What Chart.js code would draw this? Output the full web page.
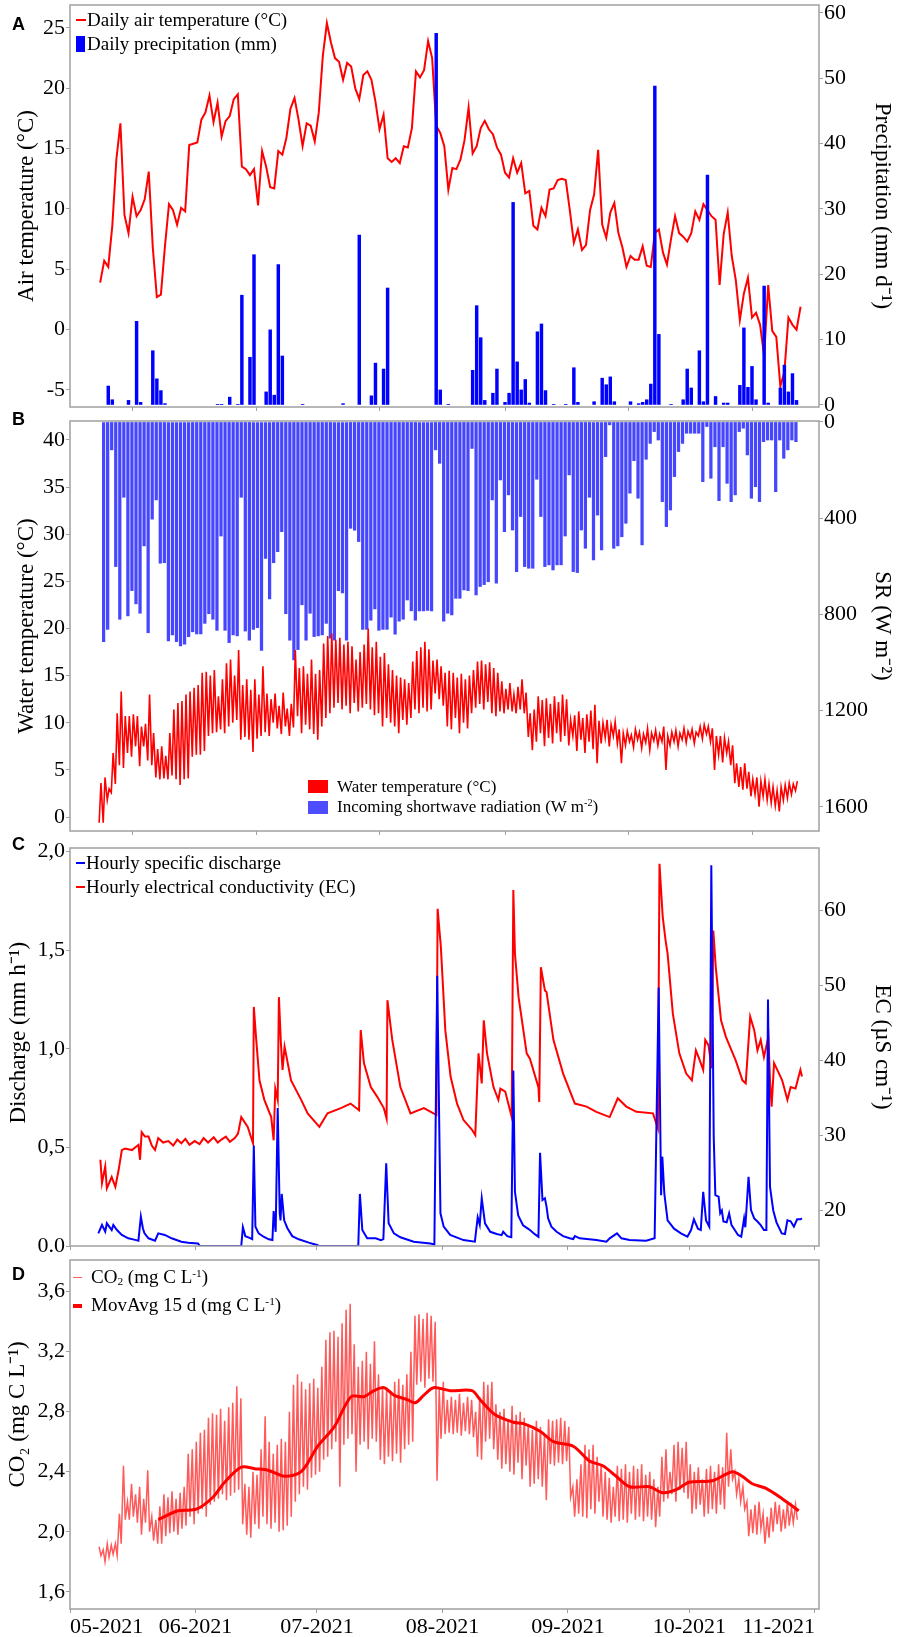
<!DOCTYPE html>
<html lang="en">
<head>
<meta charset="utf-8">
<title>Hydro-meteorological time series 2021</title>
<script src="https://cdn.jsdelivr.net/npm/chart.js@4.4.1/dist/chart.umd.min.js"></script>
<style>
  html, body { margin:0; padding:0; background:#fff; }
  #wrap { position:relative; width:900px; height:1637px; overflow:hidden; background:#fff; font-family:"Liberation Serif", serif; }
  #wrap canvas { position:absolute; left:0; }
  .pl { position:absolute; font-family:"Liberation Sans", Arial, sans-serif; font-weight:bold; font-size:18px; line-height:18px; color:#000; }
  .leg { position:absolute; font-family:"Liberation Serif", "Times New Roman", serif; line-height:1; white-space:nowrap; color:#000; }
  .leg sup { font-size:0.6em; vertical-align:0.55em; line-height:0; }
  .leg sub { font-size:0.6em; vertical-align:-0.2em; line-height:0; }
  .mk { position:absolute; }
</style>
</head>
<body>
<div id="wrap">
  <canvas id="cA" width="900" height="416" style="top:0px"></canvas>
  <canvas id="cB" width="900" height="442" style="top:400px"></canvas>
  <canvas id="cC" width="900" height="420" style="top:834px"></canvas>
  <canvas id="cD" width="900" height="391" style="top:1246px"></canvas>

  <div class="pl" style="left:12px;top:15px">A</div>
  <div class="pl" style="left:12px;top:410px">B</div>
  <div class="pl" style="left:12px;top:835px">C</div>
  <div class="pl" style="left:12px;top:1265px">D</div>

  <!-- Panel A legend -->
  <div class="mk" style="left:76px;top:19px;width:10px;height:2px;background:#ff0000"></div>
  <div class="leg" style="left:87px;top:10px;font-size:19px">Daily air temperature (°C)</div>
  <div class="mk" style="left:76px;top:36px;width:9px;height:16px;background:#0000ff"></div>
  <div class="leg" style="left:87px;top:34px;font-size:19px">Daily precipitation (mm)</div>

  <!-- Panel B legend -->
  <div class="mk" style="left:308px;top:780px;width:20px;height:13px;background:#ff0000"></div>
  <div class="leg" style="left:337px;top:777.5px;font-size:17px">Water temperature (°C)</div>
  <div class="mk" style="left:308px;top:801px;width:20px;height:12.5px;background:#4d4dff"></div>
  <div class="leg" style="left:337px;top:797.5px;font-size:17px">Incoming shortwave radiation (W m<sup>-2</sup>)</div>

  <!-- Panel C legend -->
  <div class="mk" style="left:76px;top:862px;width:9px;height:2px;background:#0000ff"></div>
  <div class="leg" style="left:86px;top:853.4px;font-size:19px">Hourly specific discharge</div>
  <div class="mk" style="left:76px;top:886px;width:9px;height:2px;background:#ff0000"></div>
  <div class="leg" style="left:86px;top:877.4px;font-size:19px">Hourly electrical conductivity (EC)</div>

  <!-- Panel D legend -->
  <div class="mk" style="left:73px;top:1276.5px;width:9px;height:1.5px;background:#ff6060"></div>
  <div class="leg" style="left:91px;top:1267.4px;font-size:19px">CO<sub>2</sub> (mg C L<sup>-1</sup>)</div>
  <div class="mk" style="left:73px;top:1304px;width:9px;height:4px;background:#ff0000"></div>
  <div class="leg" style="left:91px;top:1295.1px;font-size:19px">MovAvg 15 d (mg C L<sup>-1</sup>)</div>
</div>

<script>
// ---------------- DATA (day = days since 1 May 2021) ----------------
const MONTH_TICKS  = [0, 31, 61, 92, 123, 153, 184];
const MONTH_LABELS = ['05-2021', '06-2021', '07-2021', '08-2021', '09-2021', '10-2021', '11-2021'];

// Panel A: daily air temperature (°C), first value = day 7 (8 May)
const AIR_FIRST_DAY = 7;
const airTemp = [
  3.9, 5.7, 5.2, 8.6, 14.1, 17.1, 9.5, 8.0, 11.0, 9.4,
  9.9, 10.8, 13.1, 6.8, 2.7, 2.9, 6.9, 10.4, 9.9, 8.7,
  10.1, 9.8, 15.3, 15.4, 15.5, 17.4, 18.0, 19.4, 17.2, 18.8,
  16.0, 17.3, 17.7, 19.1, 19.5, 13.5, 13.3, 12.8, 13.3, 10.3,
  14.8, 13.5, 11.8, 11.7, 14.8, 14.5, 15.9, 18.3, 19.2, 17.4,
  15.2, 17.1, 16.9, 15.6, 18.0, 22.7, 25.4, 23.8, 22.5, 22.2,
  20.7, 22.1, 21.8, 20.0, 19.1, 21.1, 21.4, 20.7, 18.9, 16.6,
  17.8, 14.2, 13.9, 14.2, 13.8, 15.2, 15.1, 16.7, 21.4, 20.9,
  21.5, 23.9, 22.5, 16.9, 16.3, 15.2, 11.6,
  13.4, 13.3, 14.1, 15.7, 18.4, 14.6, 15.2, 16.7, 17.3, 16.6,
  16.2, 15.1, 14.5, 13.0, 12.6, 14.2, 13.0, 13.8, 11.3, 11.5,
  8.6, 8.3, 10.1, 9.4, 11.6, 11.7, 12.4, 12.5, 12.4, 9.9,
  7.2, 8.3, 6.6, 7.0, 9.9, 11.2, 14.9, 8.7, 7.6, 9.7,
  10.5, 8.0, 6.8, 5.2, 6.1, 5.8, 5.8, 6.9, 5.3, 5.2,
  8.0, 8.3, 6.4, 5.4, 7.5, 9.4, 8.0, 7.7, 7.3, 8.0,
  9.8, 9.1, 10.4, 9.9, 9.4, 9.1, 3.7, 7.9, 9.7, 6.1,
  4.1, 0.8, 3.0, 4.3, 1.0, 1.4, 0.4, -2.2, 3.7, -0.1,
  -0.6, -4.7, -3.5, 1.0, 0.4, 0.0, 1.9
];
// Panel A: daily precipitation (mm d-1)
const precipDays = [9, 10, 14, 16, 17, 20, 21, 22, 23, 36, 37, 39, 41, 42, 44, 45, 48, 49, 50, 51,
  52, 57, 67, 71, 74, 75, 77, 78, 90, 91, 93, 99, 100, 101, 102, 104, 105, 107, 108, 109,
  110, 111, 112, 113, 115, 116, 117, 119, 122, 124, 125, 129, 131, 132, 133, 134, 138, 140, 141, 142,
  143, 144, 145, 148, 151, 152, 153, 155, 156, 157, 159, 161, 162, 165, 166, 167, 168, 169, 171, 172,
  175, 176, 177, 178, 179];
const precipMm = [2.9, 0.8, 0.7, 12.8, 0.4, 8.3, 4.0, 2.2, 0.2, 0.1, 0.1, 1.2, 0.1, 16.8, 7.3, 23.0, 2.0, 11.5, 1.5, 21.5,
  7.5, 0.1, 0.2, 26.0, 1.4, 6.4, 5.5, 17.9, 56.9, 2.3, 0.1, 5.3, 15.2, 10.3, 0.7, 1.8, 5.5, 0.4, 1.8, 31.0,
  6.6, 2.3, 3.9, 0.3, 11.2, 12.4, 2.2, 0.1, 0.1, 5.7, 0.4, 0.5, 4.1, 3.1, 4.3, 0.5, 0.5, 0.2, 0.4, 0.8,
  3.2, 48.8, 10.8, 0.1, 0.8, 5.5, 2.6, 8.3, 0.5, 35.2, 1.3, 0.3, 0.3, 3.0, 11.8, 2.7, 5.9, 0.8, 18.2, 0.3,
  2.6, 6.1, 2.0, 4.8, 0.7];

// Panel B: daily peak incoming shortwave radiation (W m-2), first value = day 8
const SR_FIRST_DAY = 8;
const srPeak = [
  913, 862, 116, 601, 820, 313, 806, 701, 756, 795,
  515, 876, 404, 324, 587, 585, 910, 885, 913, 931,
  924, 892, 872, 881, 881, 837, 797, 820, 866, 474,
  866, 917, 885, 889, 313, 869, 907, 862, 855, 950,
  567, 735, 585, 539, 456, 797, 907, 989, 946, 760,
  907, 795, 892, 889, 885, 837, 899, 907, 701, 711,
  907, 442, 450, 497, 862, 862, 824, 777, 866, 862,
  862, 811, 882, 828, 820, 740, 785, 824, 785, 785,
  783, 785, 116, 172, 828, 795,
  802, 733, 733, 698, 701, 110, 719, 684, 676, 664,
  324, 670, 241, 456, 303, 449, 622, 393, 601, 608,
  608, 238, 393, 601, 594, 615, 594, 594, 474, 220,
  622, 626, 449, 525, 313, 573, 387, 532, 144, 12,
  525, 515, 477, 421, 296, 161, 317, 511, 155, 89,
  40, 75, 331, 435, 366, 227, 123, 89, 47, 47,
  47, 47, 248, 19, 234, 103, 327, 103, 255, 331,
  303, 40, 26, 137, 317, 269, 331, 82, 75, 75,
  290, 75, 151, 116, 75, 82
];
// Panel B: daily max / min water temperature (°C), first value = day 7
const WT_FIRST_DAY = 7;
const wtMax = [
  3.6, 4.2, 3.0, 6.8, 11.0, 13.3, 10.7, 10.7, 10.9, 10.7,
  9.6, 9.9, 13.0, 8.9, 7.2, 7.5, 6.5, 8.9, 11.4, 12.1,
  12.3, 13.0, 13.3, 13.7, 14.0, 15.3, 15.4, 15.0, 15.6, 12.8,
  14.6, 16.3, 16.7, 15.0, 17.7, 14.0, 14.6, 13.5, 14.6, 13.0,
  16.0, 13.1, 12.5, 13.1, 11.8, 13.2, 11.5, 12.0, 17.7, 15.8,
  16.0, 15.2, 16.7, 15.2, 15.6, 18.4, 19.2, 19.5, 18.8, 19.0,
  18.3, 18.6, 18.1, 16.7, 17.5, 18.3, 20.0, 18.0, 18.6, 17.0,
  17.4, 16.2, 15.6, 15.0, 14.8, 14.6, 14.2, 16.5, 17.6, 18.0,
  18.6, 17.8, 16.6, 16.7, 16.0, 15.3, 15.5, 15.3, 14.8, 15.2,
  14.6, 15.0, 15.6, 16.5, 16.6, 16.2, 16.4, 15.8, 15.3, 14.4,
  13.6, 14.2, 13.0, 13.8, 14.6, 13.2, 11.0, 11.4, 12.8, 12.4,
  12.6, 12.0, 12.8, 12.2, 13.0, 12.5, 10.3, 10.8, 11.2, 10.5,
  10.9, 11.3, 11.9, 10.2, 10.0, 10.3, 9.8, 10.1, 9.3, 8.9,
  9.1, 8.7, 9.3, 9.0, 8.8, 9.4, 8.9, 9.2, 8.8, 9.6,
  8.6, 9.0, 9.2, 8.9, 9.4, 9.1, 9.3, 9.0, 9.6, 9.8,
  9.6, 9.4, 8.6, 8.6, 8.4, 8.0, 7.6, 5.7, 5.3, 5.7,
  4.8, 4.0, 4.2, 3.8, 4.0, 3.5, 3.2, 2.8, 3.2, 3.4,
  3.6, 3.5, 3.8
];
const wtMin = [
  -0.6, -0.6, 1.8, 2.6, 3.5, 5.5, 5.2, 6.8, 6.4, 7.5,
  5.4, 7.5, 6.0, 5.5, 4.2, 4.0, 4.1, 4.0, 4.4, 4.0,
  3.4, 4.0, 4.1, 6.4, 6.6, 6.6, 7.0, 8.6, 8.9, 9.0,
  9.3, 8.9, 9.6, 10.0, 10.3, 8.2, 8.5, 8.2, 6.9, 8.3,
  8.6, 9.0, 8.6, 10.0, 9.4, 8.8, 9.6, 8.6, 9.5, 10.7,
  8.9, 9.8, 9.3, 8.8, 8.2, 9.6, 10.5, 11.0, 11.6, 12.1,
  11.4, 11.8, 11.0, 12.1, 11.2, 11.6, 12.0, 11.4, 10.8, 11.0,
  9.6, 10.5, 10.0, 9.6, 8.9, 10.3, 9.8, 10.5, 11.4, 11.0,
  11.6, 11.2, 11.4, 13.1, 12.5, 11.8, 9.6, 9.3, 10.5, 8.9,
  10.0, 9.4, 11.0, 11.6, 12.0, 11.4, 12.2, 11.0, 10.7, 11.2,
  11.0, 11.4, 11.2, 11.0, 11.4, 11.0, 8.5, 7.1, 8.0, 8.9,
  7.5, 8.4, 7.8, 8.9, 8.0, 8.6, 7.6, 8.6, 7.0, 8.2,
  6.8, 8.0, 7.2, 5.7, 7.8, 8.4, 7.5, 8.6, 7.8, 5.7,
  7.6, 8.0, 7.4, 8.2, 7.3, 7.9, 7.1, 8.1, 7.6, 8.0,
  5.0, 7.6, 8.0, 7.5, 8.2, 7.9, 8.4, 7.8, 8.6, 8.3,
  8.8, 8.0, 5.0, 6.6, 5.8, 6.8, 5.5, 3.6, 3.2, 2.9,
  3.0, 2.2, 2.4, 1.1, 2.2, 1.8, 1.5, 1.2, 0.6, 1.8,
  2.0, 2.4, 2.8
];

// Panel C: hourly specific discharge (mm h-1)
const qDays = [7.0, 7.9, 8.7, 9.1, 10.3, 10.7, 11.6, 12.8, 14.4, 16.1,
  16.9, 17.5, 18.0, 18.4, 19.4, 21.0, 21.8, 23.4, 25.1, 27.5,
  29.2, 31.6, 32.1, 42.3, 42.7, 43.3, 44.5, 45.0, 45.4, 45.8,
  46.6, 47.8, 49.1, 50.0, 50.3, 50.8, 51.3, 51.8, 52.0, 52.3,
  52.9, 53.7, 54.9, 56.5, 59.0, 61.0, 61.5, 71.2, 71.6, 72.2,
  73.4, 75.5, 76.8, 77.4, 78.1, 78.7, 80.0, 81.6, 84.9, 89.0,
  90.0, 90.7, 91.5, 92.3, 93.9, 97.2, 100.0, 100.7, 101.2, 101.7,
  102.5, 103.8, 105.4, 106.6, 107.0, 108.0, 109.0, 109.5, 109.9, 110.7,
  111.9, 113.1, 113.6, 114.8, 115.7, 116.1, 116.7, 117.3, 117.7, 118.1,
  118.9, 120.2, 121.8, 123.4, 124.3, 124.7, 125.9, 130.0, 132.5, 133.3,
  135.1, 136.2, 138.2, 142.3, 144.4, 145.4, 146.0, 146.3, 146.8, 147.6,
  149.2, 150.9, 152.5, 153.4, 154.1, 155.1, 155.8, 156.4, 157.1, 157.9,
  158.4, 159.0, 159.4, 160.2, 160.6, 161.0, 161.4, 162.2, 162.8, 163.4,
  164.2, 165.0, 165.8, 166.5, 166.8, 167.6, 168.2, 169.0, 169.8, 170.6,
  171.4, 172.0, 172.4, 172.9, 173.7, 174.5, 175.8, 176.6, 177.2, 178.0,
  178.8, 179.6, 180.4, 180.8];
const qVals = [0.064, 0.107, 0.073, 0.115, 0.081, 0.107, 0.081, 0.056, 0.039, 0.031,
  0.027, 0.149, 0.090, 0.064, 0.039, 0.027, 0.064, 0.056, 0.039, 0.022,
  0.017, 0.013, 0.0, 0.0, 0.095, 0.050, 0.040, 0.035, 0.51, 0.098,
  0.064, 0.047, 0.034, 0.030, 0.177, 0.072, 0.70, 0.166, 0.130, 0.264,
  0.130, 0.090, 0.050, 0.034, 0.017, 0.005, 0.0, 0.0, 0.264, 0.081,
  0.039, 0.039, 0.030, 0.035, 0.42, 0.115, 0.064, 0.044, 0.022, 0.013,
  0.008, 1.37, 0.166, 0.098, 0.056, 0.030, 0.022, 0.146, 0.108, 0.242,
  0.115, 0.072, 0.061, 0.055, 0.072, 0.050, 0.045, 0.89, 0.275, 0.155,
  0.105, 0.088, 0.081, 0.060, 0.047, 0.473, 0.233, 0.242, 0.200, 0.140,
  0.098, 0.072, 0.050, 0.039, 0.035, 0.050, 0.039, 0.030, 0.022, 0.039,
  0.064, 0.039, 0.030, 0.027, 0.039, 1.31, 0.258, 0.453, 0.265, 0.130,
  0.088, 0.064, 0.047, 0.081, 0.135, 0.088, 0.081, 0.275, 0.130, 0.098,
  1.93, 0.55, 0.258, 0.250, 0.166, 0.180, 0.124, 0.120, 0.166, 0.106,
  0.081, 0.056, 0.047, 0.140, 0.095, 0.351, 0.182, 0.140, 0.124, 0.106,
  0.081, 0.081, 1.25, 0.30, 0.180, 0.120, 0.064, 0.061, 0.130, 0.125,
  0.098, 0.135, 0.135, 0.140];
// Panel C: hourly electrical conductivity (µS cm-1)
const ecDays = [7.5, 7.9, 8.7, 9.1, 10.3, 11.2, 12.0, 12.8, 13.6, 15.3,
  16.9, 17.3, 17.7, 18.5, 19.4, 20.2, 21.0, 21.8, 23.0, 24.3,
  25.5, 26.5, 27.5, 28.5, 29.5, 30.8, 32.0, 33.0, 34.1, 35.5,
  36.5, 37.4, 38.5, 39.5, 40.7, 41.5, 42.3, 43.9, 45.2, 45.4,
  46.0, 46.8, 48.0, 49.7, 50.3, 50.7, 51.3, 51.6, 52.1, 52.5,
  53.0, 54.6, 57.1, 58.7, 61.6, 63.6, 66.9, 69.3, 71.4, 71.8,
  72.6, 74.3, 75.9, 77.5, 78.2, 78.4, 79.6, 81.6, 84.1, 87.4,
  89.8, 90.5, 90.8, 91.6, 92.7, 94.0, 95.6, 97.2, 99.3, 100.1,
  100.9, 101.7, 102.2, 103.0, 104.6, 105.8, 106.3, 107.5, 109.1, 109.5,
  109.9, 110.8, 112.8, 113.6, 115.7, 115.9, 116.3, 117.3, 117.7, 119.4,
  121.8, 124.7, 127.6, 130.0, 133.3, 135.3, 137.4, 139.9, 144.0, 145.2,
  145.6, 146.4, 147.1, 147.6, 148.9, 150.5, 152.2, 153.6, 154.6, 155.4,
  156.4, 156.9, 157.7, 158.5, 158.9, 159.5, 160.8, 162.0, 164.4, 166.1,
  166.9, 168.0, 169.0, 169.8, 170.6, 171.4, 172.5, 172.9, 173.3, 173.9,
  174.7, 175.9, 177.2, 178.0, 179.2, 180.4, 180.8];
const ecVals = [26.7, 23.6, 25.8, 22.9, 24.4, 23.1, 25.3, 28.0, 28.2, 28.0,
  28.7, 26.7, 30.4, 29.8, 29.8, 28.6, 28.0, 29.6, 29.0, 29.2,
  28.6, 29.4, 28.9, 29.5, 28.7, 29.2, 28.8, 29.6, 29.0, 29.7,
  29.0, 29.4, 29.8, 29.1, 29.6, 30.2, 32.4, 31.1, 28.9, 47.1,
  42.7, 37.3, 34.7, 32.4, 29.3, 36.2, 34.7, 48.4, 42.2, 38.7,
  41.8, 37.3, 34.7, 32.9, 31.1, 32.9, 33.6, 34.2, 33.3, 44.0,
  39.6, 36.4, 35.1, 33.6, 32.2, 48.0, 42.7, 36.4, 32.9, 33.6,
  32.9, 32.7, 60.2, 55.1, 44.0, 37.8, 34.2, 32.0, 30.7, 30.0,
  40.9, 36.9, 45.3, 40.9, 36.4, 34.7, 36.2, 35.8, 32.4, 62.7,
  54.2, 48.4, 40.9, 40.2, 36.4, 34.4, 52.4, 49.3, 49.1, 42.7,
  38.2, 34.2, 33.8, 33.1, 32.4, 34.9, 33.8, 33.1, 32.9, 30.9,
  66.2, 59.1, 56.0, 54.2, 46.2, 40.9, 38.2, 37.3, 41.3, 40.2,
  38.7, 42.7, 42.0, 38.9, 57.3, 52.4, 45.3, 43.1, 40.0, 37.3,
  36.9, 45.8, 44.0, 41.3, 42.7, 40.4, 43.1, 37.3, 33.8, 39.6,
  38.7, 37.3, 34.7, 36.4, 36.2, 38.7, 37.8];

// Panel D: daily max / min CO2 (mg C L-1), first value = day 7
const CO2_FIRST_DAY = 7;
const co2Max = [
  1.90, 1.88, 1.92, 1.91, 1.92, 2.12, 2.44, 2.20, 2.32, 2.25,
  2.30, 2.22, 2.41, 2.10, 2.08, 2.17, 2.25, 2.23, 2.27, 2.22,
  2.26, 2.30, 2.52, 2.55, 2.60, 2.66, 2.68, 2.76, 2.79, 2.78,
  2.82, 2.74, 2.83, 2.86, 2.97, 2.89, 2.32, 2.30, 2.40, 2.38,
  2.55, 2.77, 2.60, 2.52, 2.58, 2.62, 2.60, 2.80, 2.98, 3.05,
  3.00, 2.95, 2.99, 3.02, 2.96, 3.10, 3.28, 3.33, 3.34, 3.30,
  3.39, 3.48, 3.52, 3.25, 3.10, 3.14, 3.20, 3.12, 3.27, 3.05,
  2.96, 2.95, 2.94, 3.00, 3.02, 2.98, 3.05, 3.20, 3.44, 3.45,
  3.42, 3.46, 3.44, 3.40, 2.95, 3.00, 2.88, 2.90, 2.88, 2.92,
  2.86, 2.90, 2.88, 2.80, 2.90, 3.00, 2.98, 3.00, 2.85, 2.80,
  2.82, 2.75, 2.84, 2.78, 2.80, 2.76, 2.72, 2.68, 2.74, 2.70,
  2.65, 2.75, 2.74, 2.75, 2.76, 2.74, 2.70, 2.30, 2.35, 2.45,
  2.58, 2.55, 2.58, 2.50, 2.45, 2.40, 2.36, 2.30, 2.44, 2.42,
  2.45, 2.40, 2.44, 2.42, 2.45, 2.38, 2.40, 2.35, 2.30, 2.50,
  2.55, 2.40, 2.58, 2.60, 2.56, 2.60, 2.45, 2.40, 2.43, 2.35,
  2.42, 2.44, 2.40, 2.45, 2.43, 2.66, 2.55, 2.40, 2.35, 2.30,
  2.20, 2.15, 2.18, 2.20, 2.12, 2.10, 2.16, 2.20, 2.18, 2.15,
  2.20, 2.16, 2.18
];
const co2Min = [
  1.84, 1.80, 1.83, 1.85, 1.84, 1.92, 2.08, 2.08, 2.10, 2.06,
  1.98, 2.06, 2.00, 1.94, 1.92, 1.92, 1.97, 1.99, 2.00, 1.98,
  2.02, 2.04, 2.10, 2.05, 2.12, 2.15, 2.10, 2.18, 2.20, 2.22,
  2.25, 2.21, 2.24, 2.26, 2.28, 2.05, 1.98, 1.96, 2.05, 2.02,
  2.10, 2.05, 2.02, 2.06, 2.00, 2.01, 2.04, 2.10, 2.20, 2.25,
  2.30, 2.28, 2.36, 2.38, 2.40, 2.48, 2.50, 2.55, 2.60, 2.30,
  2.58, 2.62, 2.65, 2.40, 2.58, 2.60, 2.55, 2.62, 2.60, 2.48,
  2.45, 2.50, 2.47, 2.52, 2.46, 2.55, 2.58, 2.60, 2.98, 3.00,
  2.96, 3.02, 3.00, 2.34, 2.62, 2.65, 2.66, 2.65, 2.66, 2.64,
  2.67, 2.65, 2.63, 2.50, 2.48, 2.60, 2.62, 2.55, 2.48, 2.42,
  2.45, 2.40, 2.38, 2.46, 2.35, 2.44, 2.30, 2.32, 2.35, 2.30,
  2.21, 2.45, 2.44, 2.46, 2.45, 2.47, 2.23, 2.10, 2.12, 2.10,
  2.09, 2.15, 2.12, 2.20, 2.10, 2.08, 2.06, 2.10, 2.07, 2.08,
  2.06, 2.12, 2.08, 2.10, 2.07, 2.10, 2.08, 2.03, 2.10, 2.20,
  2.22, 2.25, 2.20, 2.28, 2.26, 2.22, 2.12, 2.15, 2.18, 2.10,
  2.12, 2.15, 2.12, 2.18, 2.15, 2.30, 2.35, 2.25, 2.20, 2.15,
  1.97, 1.99, 1.98, 2.02, 1.92, 1.96, 2.00, 2.05, 2.00, 2.02,
  2.04, 2.06, 2.08
];
// Panel D: 15-day moving average of CO2
const movDays = [21.8, 26.7, 31.2, 35.3, 38.2, 42.3, 45.6, 48.9, 53.0, 57.1,
  61.2, 65.3, 69.4, 72.6, 75.1, 77.6, 80.0, 83.3, 85.3, 87.4,
  89.8, 93.9, 99.3, 101.3, 105.0, 109.5, 112.0, 116.1, 119.4, 124.3,
  128.4, 131.6, 134.9, 138.2, 143.1, 146.4, 149.7, 152.9, 158.7, 163.6,
  166.0, 168.5, 171.8, 175.9, 180.0];
const movVals = [2.08, 2.14, 2.15, 2.23, 2.33, 2.43, 2.42, 2.41, 2.37, 2.40,
  2.57, 2.70, 2.90, 2.90, 2.94, 2.96, 2.91, 2.88, 2.86, 2.91,
  2.96, 2.94, 2.94, 2.88, 2.78, 2.73, 2.72, 2.67, 2.60, 2.57,
  2.47, 2.44, 2.37, 2.30, 2.30, 2.26, 2.28, 2.33, 2.34, 2.40,
  2.37, 2.32, 2.29, 2.22, 2.14];

// ---------------- STYLE / LAYOUT ----------------
const SERIF = '"Liberation Serif", "Times New Roman", serif';
Chart.defaults.font.family = SERIF;
const tickFont = { family: SERIF, size: 22 };
const titleFont = { family: SERIF, size: 23 };
const AXIS_GRAY = '#a0a0a0';
const DAY_MID = 0.45;
const LEFT_W = 70, RIGHT_W = 81;

const framePlugin = {
  id: 'frame',
  afterDatasetsDraw(chart) {
    const { ctx, chartArea: a } = chart;
    ctx.save();
    ctx.strokeStyle = AXIS_GRAY;
    ctx.lineWidth = 1.5;
    ctx.strokeRect(a.left, a.top, a.right - a.left, a.bottom - a.top);
    ctx.restore();
  }
};

function xAxis(height, showLabels) {
  return {
    type: 'linear', position: 'bottom', min: 0, max: 185, offset: false,
    afterBuildTicks: s => { s.ticks = MONTH_TICKS.map(v => ({ value: v })); },
    afterFit: s => { s.height = height; s.paddingLeft = 0; s.paddingRight = 0; },
    ticks: {
      display: showLabels, autoSkip: false, maxRotation: 0, minRotation: 0, align: 'inner',
      padding: 1, color: '#000', font: tickFont,
      callback: (v, i) => MONTH_LABELS[i]
    },
    grid: { display: true, drawOnChartArea: false, drawTicks: true, tickLength: 4, color: AXIS_GRAY, lineWidth: 1 },
    border: { display: false }
  };
}

function yAxis(o) {
  return {
    type: 'linear', position: o.position, min: o.min, max: o.max, reverse: !!o.reverse,
    afterBuildTicks: s => { s.ticks = o.ticks.map(v => ({ value: v })); },
    afterFit: s => { s.width = o.width; s.paddingTop = 0; s.paddingBottom = 0; },
    ticks: { color: '#000', font: tickFont, padding: 1, callback: o.fmt || (v => String(v)) },
    grid: { drawOnChartArea: false, drawTicks: true, tickLength: 4, color: AXIS_GRAY, lineWidth: 1 },
    border: { display: false },
    title: { display: true, text: o.title, color: '#000', font: titleFont, padding: { top: o.titlePad, bottom: 0 } }
  };
}

function baseOptions(padTop, padRight, scales) {
  return {
    responsive: false, animation: false, events: [],
    layout: { padding: { top: padTop, right: padRight, left: 0, bottom: 0 } },
    plugins: { legend: { display: false }, tooltip: { enabled: false } },
    scales
  };
}

const comma1 = v => v.toFixed(1).replace('.', ',');
const charts = [];

// ---------------- PANEL A ----------------
charts.push(new Chart(document.getElementById('cA'), {
  type: 'line',
  data: {
    datasets: [
      {
        type: 'bar', yAxisID: 'yP', order: 0,
        data: precipDays.map((d, i) => ({ x: d + DAY_MID, y: precipMm[i] })),
        backgroundColor: '#0000ff', borderWidth: 0, barThickness: 2.8
      },
      {
        type: 'line', yAxisID: 'yT', order: 1,
        data: airTemp.map((t, i) => ({ x: AIR_FIRST_DAY + i + DAY_MID, y: t })),
        borderColor: '#ff0000', borderWidth: 2, pointRadius: 0, tension: 0
      }
    ]
  },
  options: baseOptions(5, 0, {
    x: xAxis(9, false),
    yT: yAxis({ position: 'left', min: -6.41, max: 26.9, ticks: [-5, 0, 5, 10, 15, 20, 25], width: LEFT_W,
                title: 'Air temperature (°C)', titlePad: 13 }),
    yP: yAxis({ position: 'right', min: -0.31, max: 61.22, ticks: [0, 10, 20, 30, 40, 50, 60], width: RIGHT_W,
                title: 'Precipitation (mm d⁻¹)', titlePad: 4 })
  }),
  plugins: [framePlugin]
}));

// ---------------- PANEL B ----------------
const wtPoints = [];
wtMax.forEach((mx, i) => {
  wtPoints.push({ x: WT_FIRST_DAY + i + 0.2, y: wtMin[i] });
  wtPoints.push({ x: WT_FIRST_DAY + i + 0.65, y: mx });
});
charts.push(new Chart(document.getElementById('cB'), {
  type: 'line',
  data: {
    datasets: [
      {
        type: 'line', yAxisID: 'yW', order: 0,
        data: wtPoints,
        borderColor: '#ff0000', borderWidth: 1.6, pointRadius: 0, tension: 0
      },
      {
        type: 'bar', yAxisID: 'yS', order: 1,
        data: srPeak.map((v, i) => ({ x: SR_FIRST_DAY + i + 0.3, y: v })),
        backgroundColor: '#4646ff', borderWidth: 0, barThickness: 2.6
      }
    ]
  },
  options: baseOptions(21, 0, {
    x: xAxis(11, false),
    yW: yAxis({ position: 'left', min: -1.48, max: 42.0, ticks: [0, 5, 10, 15, 20, 25, 30, 35, 40], width: LEFT_W,
                title: 'Water temperature (°C)', titlePad: 13 }),
    yS: yAxis({ position: 'right', min: -4, max: 1700, reverse: true, ticks: [0, 400, 800, 1200, 1600], width: RIGHT_W,
                title: 'SR (W m⁻²)', titlePad: 4 })
  }),
  plugins: [framePlugin]
}));

// ---------------- PANEL C ----------------
charts.push(new Chart(document.getElementById('cC'), {
  type: 'line',
  data: {
    datasets: [
      {
        type: 'line', yAxisID: 'yQ', order: 0,
        data: qDays.map((d, i) => ({ x: d, y: qVals[i] })),
        borderColor: '#0000ff', borderWidth: 2, pointRadius: 0, tension: 0
      },
      {
        type: 'line', yAxisID: 'yE', order: 1,
        data: ecDays.map((d, i) => ({ x: d, y: ecVals[i] })),
        borderColor: '#ff0000', borderWidth: 2, pointRadius: 0, tension: 0
      }
    ]
  },
  options: baseOptions(14, 0, {
    x: xAxis(8, false),
    yQ: yAxis({ position: 'left', min: 0, max: 2.018, ticks: [0, 0.5, 1.0, 1.5, 2.0], width: LEFT_W,
                title: '     Discharge (mm h⁻¹)', titlePad: 5, fmt: v => (v === 0 ? '0.0' : comma1(v)) }),
    yE: yAxis({ position: 'right', min: 15.2, max: 68.3, ticks: [20, 30, 40, 50, 60], width: RIGHT_W,
                title: 'EC (µS cm⁻¹)', titlePad: 4 })
  }),
  plugins: [framePlugin]
}));

// ---------------- PANEL D ----------------
const co2Points = [];
co2Max.forEach((mx, i) => {
  co2Points.push({ x: CO2_FIRST_DAY + i + 0.2, y: mx });
  co2Points.push({ x: CO2_FIRST_DAY + i + 0.65, y: co2Min[i] });
});
charts.push(new Chart(document.getElementById('cD'), {
  type: 'line',
  data: {
    datasets: [
      {
        type: 'line', yAxisID: 'yC', order: 0,
        data: movDays.map((d, i) => ({ x: d, y: movVals[i] })),
        borderColor: '#ff0000', borderWidth: 3, pointRadius: 0, tension: 0.3
      },
      {
        type: 'line', yAxisID: 'yC', order: 1,
        data: co2Points,
        borderColor: '#ff5a5a', borderWidth: 1.5, pointRadius: 0, tension: 0
      }
    ]
  },
  options: baseOptions(14, RIGHT_W, {
    x: xAxis(28, true),
    yC: yAxis({ position: 'left', min: 1.485, max: 3.811, ticks: [1.6, 2.0, 2.4, 2.8, 3.2, 3.6], width: LEFT_W,
                title: '       CO₂ (mg C L⁻¹)', titlePad: 4, fmt: comma1 })
  }),
  plugins: [framePlugin]
}));

const redraw = () => charts.forEach(c => c.update('none'));
if (document.fonts && document.fonts.ready) document.fonts.ready.then(redraw);
</script>
</body>
</html>
